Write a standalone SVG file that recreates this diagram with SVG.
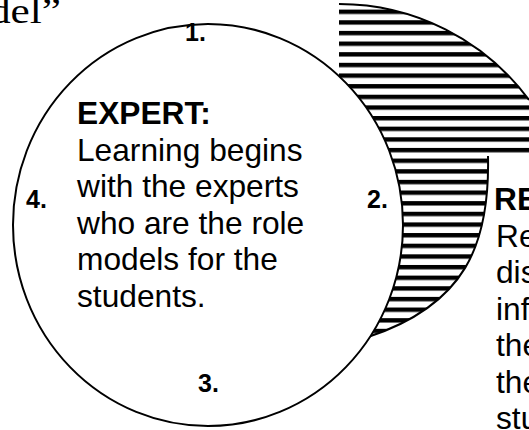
<svg xmlns="http://www.w3.org/2000/svg" width="529" height="430" viewBox="0 0 529 430">
  <style>
    .txt { font-family: "Liberation Sans", Arial, sans-serif; font-size: 31.7px; fill: #000; }
    .bold { font-weight: bold; }
    .num { font-family: "Liberation Sans", Arial, sans-serif; font-size: 25px; font-weight: bold; fill: #000; }
    .title { font-family: "Liberation Serif", "Times New Roman", serif; font-size: 35px; fill: #000; }
    .outline { fill: none; stroke: #000; stroke-width: 2; }
  </style>
  <defs>
    <pattern id="stripes" patternUnits="userSpaceOnUse" x="0" y="9.6" width="20" height="10.64">
      <rect x="0" y="0" width="20" height="10.64" fill="#fff"/>
      <rect x="0" y="0" width="20" height="4.4" fill="#000"/>
    </pattern>
  </defs>
  <rect x="0" y="0" width="529" height="430" fill="#fff"/>

  <g id="title">
    <text class="title" x="-11" y="23" textLength="72" lengthAdjust="spacingAndGlyphs">del”</text>
  </g>

  <g id="reflection-shape">
    <path d="M 339,4 A 236,236 0 0 1 529,100 L 529,153 L 488,153 L 488,157 C 490,245 465,305 368,337 L 300,300 L 339,100 Z" fill="url(#stripes)"/>
    <path class="outline" d="M 339,4 A 236,236 0 0 1 529,100"/>
    <path class="outline" d="M 488,156 C 490,245 465,305 368,337"/>
  </g>

  <g id="expert">
    <ellipse cx="208" cy="225" rx="195" ry="201" fill="#fff" stroke="#000" stroke-width="2"/>
    <text class="txt bold" x="77" y="124">EXPERT:</text>
    <text class="txt" x="77" y="160.5">Learning begins</text>
    <text class="txt" x="77" y="197">with the experts</text>
    <text class="txt" x="77" y="233.5">who are the role</text>
    <text class="txt" x="77" y="270">models for the</text>
    <text class="txt" x="77" y="306.5">students.</text>
  </g>

  <g id="step-labels">
    <text class="num" x="185" y="41">1.</text>
    <text class="num" x="367" y="208">2.</text>
    <text class="num" x="198" y="392">3.</text>
    <text class="num" x="26" y="208">4.</text>
  </g>

  <g id="reflection">
    <text class="txt bold" x="494" y="210">RE</text>
    <text class="txt" x="496" y="246.5">Re</text>
    <text class="txt" x="496" y="283">dis</text>
    <text class="txt" x="496" y="319.5">inf</text>
    <text class="txt" x="496" y="356">the</text>
    <text class="txt" x="496" y="392.5">the</text>
    <text class="txt" x="496" y="429">stu</text>
  </g>

  <g id="connectors"/>
</svg>
